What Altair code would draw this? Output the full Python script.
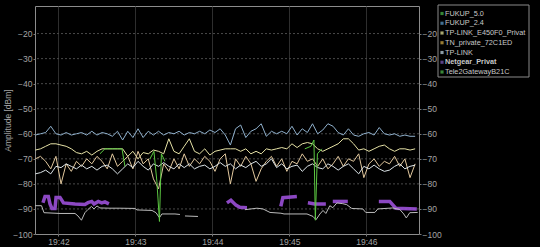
import altair as alt
import pandas as pd

SERIES = ["FUKUP_5.0", "FUKUP_2.4", "TP-LINK_E450F0_Privat", "TN_private_72C1ED",
          "TP-LINK", "Netgear_Privat", "Tele2GatewayB21C"]
LINE_COLORS = ["#5cc842", "#8fb0cc", "#e6e2a6", "#e2c89e", "#dce4e8", "#9b50d8", "#bcbcbc"]
SWATCH_COLORS = ["#4cc04c", "#5f9fd0", "#f0f0a0", "#d8b048", "#c8e0f0", "#8060c0", "#50c050"]

# seconds relative to 19:42:00
T_GRID = [-18, -14, -10, -6, -2, 2, 6, 10, 14, 18, 22, 26, 30, 34, 38, 42, 46, 50, 54, 58,
          62, 66, 70, 74, 78, 82, 86, 90, 94, 98, 102, 106, 110, 114, 118, 122, 126, 130, 134, 138,
          142, 146, 150, 154, 158, 162, 166, 170, 174, 178, 182, 186, 190, 194, 198, 202, 206, 210,
          214, 218, 222, 226, 230, 234, 238, 242, 246, 250, 254, 258, 262, 266, 270, 274, 278]

FUKUP_24 = [-60.5, -60, -59.5, -57, -60, -60.5, -59.5, -60.5, -60, -59.5,
            -60.5, -59, -60.5, -59.5, -60, -61, -59, -62.5, -59, -61.5,
            -58, -61.5, -59, -60.5, -59, -60.5, -59.5, -60, -59, -60.5,
            -59.5, -60, -59, -60, -58.5, -59.5, -58, -60.5, -64.5, -58,
            -56.5, -61.5, -59, -58, -56, -61, -59, -60, -59, -60,
            -57, -60.5, -58, -59.5, -56, -60, -58.5, -56, -57, -59.5,
            -60.5, -58, -60.5, -61, -60, -59.5, -60.5, -57.5, -60, -60.5,
            -60, -61, -60.5, -61, -61]

TPLINK_E450 = [-66.5, -66, -65, -64, -64, -64.5, -65, -66, -67.5, -68,
               -67, -68.5, -67, -66, -66, -66, -66, -66, -69, -67,
               -70, -67.5, -68, -66.5, -67, -68, -62, -67, -68, -65,
               -62, -67, -68, -66, -68.5, -67, -66.5, -66, -66, -66,
               -67, -66, -68, -67, -68, -66, -66.5, -66, -65.5, -66,
               -64, -65.5, -64, -63.5, -64, -66, -67, -66, -65, -64,
               -62, -62, -64, -66.5, -66, -67, -66, -65, -64.5, -66,
               -67, -66, -66, -66.5, -66]

TN_PRIVATE = [-70, -69, -71, -74, -69, -80, -72, -75, -71, -73,
              -70, -72, -69, -71, -74, -68, -73, -71, -69, -74,
              -67, -72, -70, -78, -82, -72, -75, -70, -74, -68,
              -73, -70, -72, -69, -71, -75, -70, -68, -80, -70,
              -73, -69, -72, -79, -74, -71, -69, -73, -70, -75,
              -71, -72, -68, -71, -70, -73, -70, -74, -72, -69,
              -73, -70, -71, -68, -77.5, -72, -70, -73, -71, -72,
              -69, -73, -70, -77.5, -72]

TPLINK = [-76, -75.5, -74.5, -76, -73, -73.5, -72, -73, -74, -72.5,
          -74, -73, -74.5, -73, -72.5, -74, -76, -74, -72, -73.5,
          -71, -73, -74.5, -72, -73, -71.5, -73, -74, -72, -73.5,
          -72, -74, -73, -72.5, -74, -73, -71.5, -73, -72, -74,
          -72.5, -73.5, -72, -71, -73, -72, -70, -73.5, -72, -74,
          -73, -72.5, -75, -73, -72, -73.5, -74, -72, -73, -74.5,
          -73, -72, -74, -76, -73, -74, -72.5, -74, -75, -74.5,
          -73, -72, -74, -73, -72.5]

FUKUP_50_T = [32.3, 36.2, 49.5, 51.8,
              71.3, 74.4, 76.7, 78.7, 80.2, 83.0,
              192.0, 196.7, 199.1, 200.2, 201.8, 205.3]
FUKUP_50_V = [-68, -66, -66, -73,
              -70, -67, -79, -95, -68, -71,
              -66, -65, -62.5, -94.5, -68, -66]
FUKUP_50_SEG = [1, 1, 1, 1, 2, 2, 2, 2, 2, 2, 3, 3, 3, 3, 3, 3]

NETGEAR_T = [-12.1, -10.5, -7.9, -6.6, -5.1, -2.7, -1.9, 1.2, 3.9, 12.9, 20.6, 23.0, 25.9, 27.7,
             31.0, 33.7, 36.2, 39.3,
             131.3, 134.4, 138.3, 141.4, 146.9,
             173.3, 174.9, 185.8,
             194.4, 199.8, 208.4,
             213.8, 225.5,
             249.7, 258.2, 262.9, 279.3]
NETGEAR_V = [-87.5, -85, -85, -88, -89.8, -89.8, -85.4, -85.4, -87.6, -88, -88.2, -87.5, -87, -88,
             -87, -87.6, -87.2, -88,
             -87.6, -86.5, -88.5, -89.3, -89.5,
             -89, -85.5, -85,
             -87.5, -88, -88,
             -87, -87,
             -87, -87, -89.7, -90]
NETGEAR_SEG = [1] * 18 + [2] * 5 + [3] * 3 + [4] * 3 + [5] * 2 + [6] * 4

TELE2_T = [-18.3, -13.2, -11.3, 1.2, 12.9, 15.2, 17.9, 20.6, 23.0, 25.7, 27.7, 30.0, 32.3, 40.1,
           47.9, 59.6, 61.2, 72.9, 76.0, 78.7, 80.6, 90.8, 94.7,
           98.6, 108.7,
           145.3, 154.7, 159.4, 164.9, 173.4, 175.8, 193.7, 198.4, 200.7, 203.8, 206.2, 208.4,
           211.5, 213.8, 217.0, 221.6, 224.7, 228.6, 237.2, 239.5, 246.6, 248.9, 260.6, 266.0,
           269.1, 271.1, 273.8, 280.0]
TELE2_V = [-88.7, -88.7, -91.5, -91.8, -91.8, -92.8, -94.5, -91.5, -90.2, -89, -90, -88.8, -89.6,
           -89.7, -89.7, -89.8, -90.4, -90.6, -91.5, -93.5, -92, -92, -92.2,
           -92.8, -93,
           -90.3, -89.7, -90, -91.4, -91.7, -92, -92, -93, -94.3, -92, -90.6, -91.8,
           -88.7, -89.5, -87.6, -87.9, -88.3, -89.8, -90, -91.4, -91.4, -90, -89.6, -90.2,
           -92, -93.6, -91.5, -91.4]
TELE2_SEG = [1] * 23 + [2] * 2 + [3] * 28

X_TICKS = [0, 60, 120, 180, 240]
Y_TICKS = [-100, -90, -80, -70, -60, -50, -40, -30, -20]
Y_GRID = [-90, -80, -70, -60, -50, -40, -30, -20]

rows = []
for name, vals in [("FUKUP_2.4", FUKUP_24), ("TP-LINK_E450F0_Privat", TPLINK_E450),
                   ("TN_private_72C1ED", TN_PRIVATE), ("TP-LINK", TPLINK)]:
    for t, v in zip(T_GRID, vals):
        rows.append({"series": name, "seg": name, "t": t, "v": v})
for name, ts, vs, ss in [("Tele2GatewayB21C", TELE2_T, TELE2_V, TELE2_SEG),
                         ("FUKUP_5.0", FUKUP_50_T, FUKUP_50_V, FUKUP_50_SEG)]:
    for t, v, s in zip(ts, vs, ss):
        rows.append({"series": name, "seg": f"{name}-{s}", "t": t, "v": v})
df_main = pd.DataFrame(rows)
df_purple = pd.DataFrame({"series": "Netgear_Privat", "t": NETGEAR_T, "v": NETGEAR_V,
                          "seg": [f"n{s}" for s in NETGEAR_SEG]})

FONT = "Liberation Sans, Arial, sans-serif"
LABEL_COLOR = "#a4a4a4"

xaxis = alt.Axis(values=X_TICKS, labelExpr="'19:' + (42 + datum.value/60)", title=None,
                 grid=True, gridColor="#2e2e2e", gridWidth=1, tickColor="#7a7a7a", tickSize=2,
                 labelColor=LABEL_COLOR, labelFontSize=8.5, labelFont=FONT, labelPadding=1,
                 domain=False)
xenc = alt.X("t:Q", scale=alt.Scale(domain=[-18.3, 281], nice=False, zero=False), axis=xaxis)
yscale = alt.Scale(domain=[-100, -9], nice=False, zero=False)

left_axis = alt.Axis(orient="left", values=Y_TICKS, title="Amplitude [dBm]", grid=False,
                     domain=False, tickSize=2, tickColor="#7a7a7a", labelColor=LABEL_COLOR,
                     labelFontSize=8.5, labelFont=FONT, labelPadding=1, titleColor=LABEL_COLOR,
                     titleFontSize=8.5, titleFont=FONT, titleFontWeight="normal", titlePadding=0)
right_axis = alt.Axis(orient="right", values=Y_TICKS, title=None, grid=False, domain=False,
                      tickSize=2, tickColor="#7a7a7a", labelColor=LABEL_COLOR, labelFontSize=8.5,
                      labelFont=FONT, labelPadding=1)

hgrid = alt.Chart(pd.DataFrame({"v": Y_GRID})).mark_rule(
    color="#4a4a4a", strokeDash=[2, 2], strokeWidth=1
).encode(y=alt.Y("v:Q", scale=yscale, axis=right_axis))

purple = alt.Chart(df_purple).mark_line(strokeWidth=3.5, color="#9b50d8", opacity=0.9).encode(
    x=xenc, y=alt.Y("v:Q", scale=yscale, axis=None), detail="seg:N"
)

lines = alt.Chart(df_main).mark_line(strokeWidth=1).encode(
    x=xenc,
    y=alt.Y("v:Q", scale=yscale, axis=left_axis),
    color=alt.Color("series:N", scale=alt.Scale(domain=SERIES, range=LINE_COLORS), legend=None),
    detail="seg:N",
)

legend_df = pd.DataFrame({"name": SERIES, "order": list(range(len(SERIES))), "swatch": SWATCH_COLORS})
ly = alt.Y("order:Q", scale=alt.Scale(domain=[0, 6], range=[7.5, 66]), axis=None)

box = alt.Chart(pd.DataFrame({"a": [0]})).mark_rect(
    fill="#000000", stroke="#8a8a8a", strokeWidth=1
).encode(x=alt.value(403), x2=alt.value(494), y=alt.value(-1), y2=alt.value(71))

swatches = alt.Chart(legend_df).mark_square(size=10, filled=True).encode(
    x=alt.value(407), y=ly, fill=alt.Fill("swatch:N", scale=None)
)
texts_normal = alt.Chart(legend_df).transform_filter(
    alt.datum.name != "Netgear_Privat"
).mark_text(align="left", baseline="middle", fontSize=7.3, font=FONT, color="#c8c8c8").encode(
    x=alt.value(410), y=ly, text="name:N"
)
texts_bold = alt.Chart(legend_df).transform_filter(
    alt.datum.name == "Netgear_Privat"
).mark_text(align="left", baseline="middle", fontSize=7.3, font=FONT, color="#c8c8c8",
            fontWeight="bold").encode(x=alt.value(410), y=ly, text="name:N")

chart = alt.layer(hgrid, purple, lines, box, swatches, texts_normal, texts_bold).resolve_scale(
    y="independent"
).properties(
    width=384, height=228,
    autosize=alt.AutoSizeParams(type="none"),
    padding={"left": 35, "top": 6, "right": 121, "bottom": 13},
).configure(background="#000000").configure_view(stroke="#8c8c8c", strokeWidth=1)

chart.save("out.html", embed_options={"renderer": "svg", "actions": False})
